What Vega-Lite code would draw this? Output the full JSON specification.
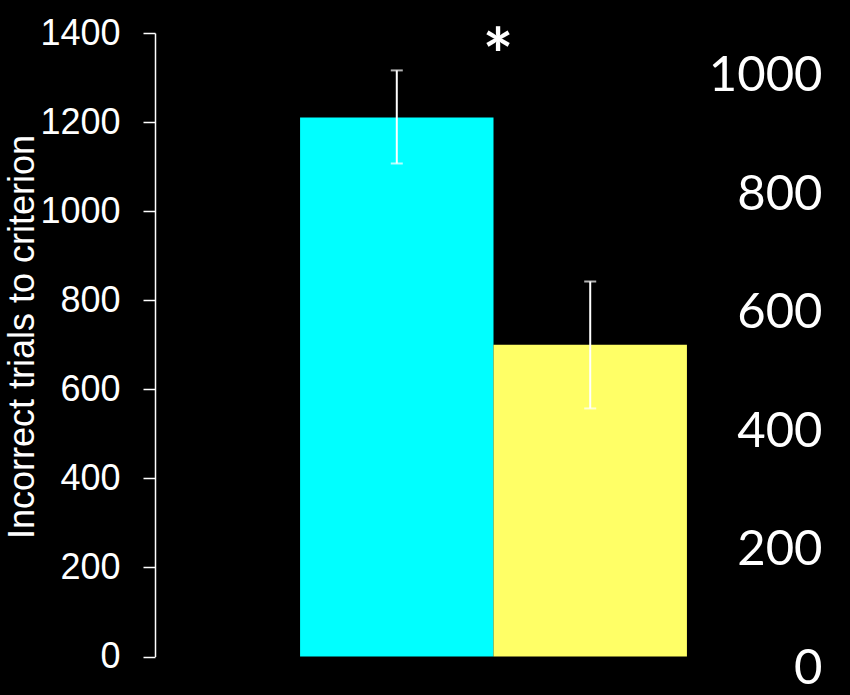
{
  "$schema": "https://vega.github.io/schema/vega-lite/v6.json",
  "width": 677,
  "height": 623.5,
  "autosize": {"type": "none"},
  "padding": {"left": 155, "top": 33, "right": 18, "bottom": 38.5},
  "background": "black",
  "config": {"view": {"stroke": null}, "axis": {"grid": false}},
  "layer": [
    {
      "data": {"values": [
        {"group": "Group 1", "mean": 1210, "lo": 1107, "hi": 1316},
        {"group": "Group 2", "mean": 700, "lo": 557, "hi": 842}
      ]},
      "layer": [
        {
          "mark": {"type": "bar"},
          "encoding": {
            "x": {"field": "group", "type": "nominal", "sort": null, "axis": null, "scale": {"paddingInner": 0, "paddingOuter": 0.75}},
            "y": {"field": "mean", "type": "quantitative", "scale": {"domain": [0, 1400], "nice": false},
              "axis": {"orient": "left", "title": "Incorrect trials to criterion", "values": [0, 200, 400, 600, 800, 1000, 1200, 1400], "format": "d",
                "domainColor": "white", "domainWidth": 1.5, "tickColor": "white", "tickWidth": 1.5, "tickSize": 12,
                "labelColor": "white", "labelFont": "Liberation Sans", "labelFontSize": 36, "labelPadding": 23, "labelBaseline": "middle",
                "titleColor": "white", "titleFont": "Liberation Sans", "titleFontSize": 36, "titleFontWeight": "normal",
                "titleAngle": -90, "titleX": -122, "titleY": 303.5, "titleAlign": "center", "titleBaseline": "alphabetic"}},
            "color": {"field": "group", "type": "nominal", "scale": {"range": ["#00FFFF", "#FFFF66"]}, "legend": null}
          }
        },
        {
          "mark": {"type": "rule", "color": "white", "strokeWidth": 2},
          "encoding": {
            "x": {"field": "group", "type": "nominal", "sort": null},
            "y": {"field": "lo", "type": "quantitative"},
            "y2": {"field": "hi"}
          }
        },
        {
          "mark": {"type": "tick", "orient": "horizontal", "size": 12, "thickness": 2, "color": "white"},
          "encoding": {
            "x": {"field": "group", "type": "nominal", "sort": null},
            "y": {"field": "lo", "type": "quantitative"}
          }
        },
        {
          "mark": {"type": "tick", "orient": "horizontal", "size": 12, "thickness": 2, "color": "white"},
          "encoding": {
            "x": {"field": "group", "type": "nominal", "sort": null},
            "y": {"field": "hi", "type": "quantitative"}
          }
        },
        {
          "data": {"values": [{"group": "Group 1", "label": "*", "pos": 1290}]},
          "mark": {"type": "text", "color": "white", "font": "Lato", "fontWeight": "bold", "fontSize": 72, "align": "center", "baseline": "alphabetic", "dx": 4.5},
          "encoding": {
            "x": {"field": "group", "type": "nominal", "sort": null, "bandPosition": 1},
            "y": {"field": "pos", "type": "quantitative"},
            "text": {"field": "label"}
          }
        }
      ]
    },
    {
      "data": {"values": [{"rv": 0}, {"rv": 200}, {"rv": 400}, {"rv": 600}, {"rv": 800}, {"rv": 1000}]},
      "mark": {"type": "rule", "opacity": 0},
      "encoding": {
        "y": {"field": "rv", "type": "quantitative", "scale": {"domain": [0, 1052.4], "nice": false, "zero": false},
          "axis": {"orient": "right", "title": null, "values": [0, 200, 400, 600, 800, 1000], "format": "d", "domain": false, "ticks": false, "grid": false,
            "labelColor": "white", "labelFont": "Lato", "labelFontSize": 49, "labelAlign": "right", "labelPadding": -10, "labelOffset": 11.5, "labelBaseline": "middle"}}
      }
    }
  ],
  "resolve": {"scale": {"y": "independent"}, "axis": {"y": "independent"}}
}
